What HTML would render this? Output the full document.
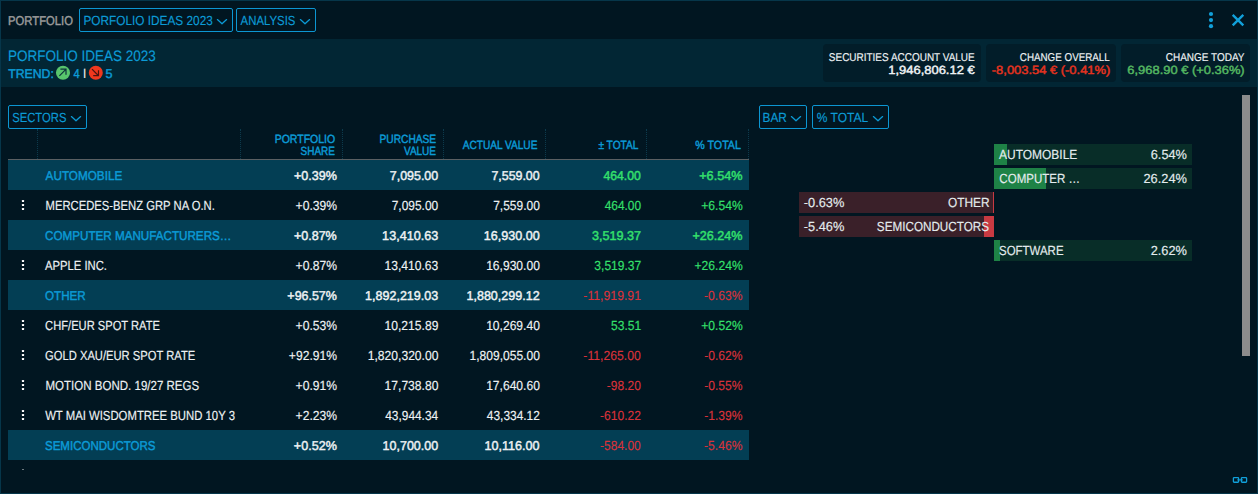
<!DOCTYPE html>
<html lang="en"><head><meta charset="utf-8"><title>Portfolio</title>
<style>
html,body{margin:0;padding:0}
body{width:1258px;height:494px;overflow:hidden;background:#011621;font-family:"Liberation Sans", sans-serif;position:relative}
#win{position:absolute;left:0;top:0;width:1256px;height:492px;border:1px solid #06364a;background:#011621;overflow:hidden}
#win>*{position:absolute}
.a{position:absolute;display:block}
.t{position:absolute;display:block;white-space:pre;line-height:20px;height:20px;transform-origin:0 50%;text-rendering:geometricPrecision}
.dd{position:absolute;border:1px solid #0c96d2;border-radius:2px}
.band{width:1256px;height:48px;background:#022634}
.stat{height:38px;border-radius:4px;background:#021d29}
.row{width:741px;height:30px}
.hl{background:#033e54}
.vsep{height:30px;width:0;border-left:1px dotted #0c3a4c}
.bar{height:21px}
</style></head><body><div id="win">
<div id="o" style="left:-1px;top:-1px;width:1258px;height:494px">
<div class="a band" style="left:1px;top:39px"></div>
<div class="a stat" style="left:823px;top:44px;width:158px"></div>
<div class="a stat" style="left:986px;top:44px;width:130px"></div>
<div class="a stat" style="left:1121px;top:44px;width:129px"></div>
<div class="dd" style="left:79px;top:8px;width:152px;height:22px"></div>
<svg class="a" style="left:216px;top:18px" width="12" height="8" viewBox="0 0 12 8"><path d="M1.4 1.6 L6 5.7 L10.6 1.6" fill="none" stroke="#0c9bd6" stroke-width="1.3" stroke-linecap="round" stroke-linejoin="round"/></svg>
<div class="dd" style="left:236px;top:8px;width:78px;height:22px"></div>
<svg class="a" style="left:299px;top:18px" width="12" height="8" viewBox="0 0 12 8"><path d="M1.4 1.6 L6 5.7 L10.6 1.6" fill="none" stroke="#0c9bd6" stroke-width="1.3" stroke-linecap="round" stroke-linejoin="round"/></svg>
<div class="dd" style="left:8px;top:105px;width:77px;height:22px"></div>
<svg class="a" style="left:70px;top:115px" width="12" height="8" viewBox="0 0 12 8"><path d="M1.4 1.6 L6 5.7 L10.6 1.6" fill="none" stroke="#0c9bd6" stroke-width="1.3" stroke-linecap="round" stroke-linejoin="round"/></svg>
<div class="dd" style="left:759px;top:105px;width:46px;height:22px"></div>
<svg class="a" style="left:790px;top:115px" width="12" height="8" viewBox="0 0 12 8"><path d="M1.4 1.6 L6 5.7 L10.6 1.6" fill="none" stroke="#0c9bd6" stroke-width="1.3" stroke-linecap="round" stroke-linejoin="round"/></svg>
<div class="dd" style="left:812px;top:105px;width:75px;height:22px"></div>
<svg class="a" style="left:872px;top:115px" width="12" height="8" viewBox="0 0 12 8"><path d="M1.4 1.6 L6 5.7 L10.6 1.6" fill="none" stroke="#0c9bd6" stroke-width="1.3" stroke-linecap="round" stroke-linejoin="round"/></svg>
<svg class="a" style="left:1208px;top:11px" width="6" height="18" viewBox="0 0 6 18"><circle cx="3" cy="3" r="2.1" fill="#11a0da"/><circle cx="3" cy="9.1" r="2.1" fill="#11a0da"/><circle cx="3" cy="15.2" r="2.1" fill="#11a0da"/></svg>
<svg class="a" style="left:1231px;top:13px" width="14" height="14" viewBox="0 0 14 14"><path d="M1.7 1.8 L12.3 12.3 M12.3 1.8 L1.7 12.3" stroke="#11a0da" stroke-width="2.4"/></svg>
<svg class="a" style="left:55px;top:65px" width="16" height="16" viewBox="0 0 16 16"><circle cx="8" cy="7.8" r="7.05" fill="#58c46c"/><path d="M4.4 10.8 L10.8 4.4 M5.4 4.2 H11 V9.8" fill="none" stroke="#0d333b" stroke-width="1.2"/></svg>
<svg class="a" style="left:88px;top:65px" width="16" height="16" viewBox="0 0 16 16"><circle cx="7.8" cy="7.8" r="7.0" fill="#f0381e"/><path d="M4 4.2 L10.3 10.5 M5.2 10.7 H10.5 V5.2" fill="none" stroke="#4a1410" stroke-width="1.2"/></svg>
<div class="a vsep" style="left:37px;top:129px"></div>
<div class="a vsep" style="left:240px;top:129px"></div>
<div class="a vsep" style="left:342px;top:129px"></div>
<div class="a vsep" style="left:443px;top:129px"></div>
<div class="a vsep" style="left:545px;top:129px"></div>
<div class="a vsep" style="left:646px;top:129px"></div>
<div class="a vsep" style="left:748px;top:129px"></div>
<div class="a" style="left:8px;top:159px;width:741px;height:1px;background:#5a5f62"></div>
<div class="a" style="left:0;top:160px;width:760px;height:310px;overflow:hidden">
<div class="a row hl" style="left:8px;top:0px"></div>
<div class="a row" style="left:8px;top:30px"></div>
<svg class="a" style="left:21px;top:39px;opacity:1" width="4" height="12" viewBox="0 0 4 12"><rect x="0.9" y="0.9" width="2.2" height="2.2" rx="0.6" fill="#fff"/><rect x="0.9" y="4.9" width="2.2" height="2.2" rx="0.6" fill="#fff"/><rect x="0.9" y="8.9" width="2.2" height="2.2" rx="0.6" fill="#fff"/></svg>
<div class="a row hl" style="left:8px;top:60px"></div>
<div class="a row" style="left:8px;top:90px"></div>
<svg class="a" style="left:21px;top:99px;opacity:1" width="4" height="12" viewBox="0 0 4 12"><rect x="0.9" y="0.9" width="2.2" height="2.2" rx="0.6" fill="#fff"/><rect x="0.9" y="4.9" width="2.2" height="2.2" rx="0.6" fill="#fff"/><rect x="0.9" y="8.9" width="2.2" height="2.2" rx="0.6" fill="#fff"/></svg>
<div class="a row hl" style="left:8px;top:120px"></div>
<div class="a row" style="left:8px;top:150px"></div>
<svg class="a" style="left:21px;top:159px;opacity:1" width="4" height="12" viewBox="0 0 4 12"><rect x="0.9" y="0.9" width="2.2" height="2.2" rx="0.6" fill="#fff"/><rect x="0.9" y="4.9" width="2.2" height="2.2" rx="0.6" fill="#fff"/><rect x="0.9" y="8.9" width="2.2" height="2.2" rx="0.6" fill="#fff"/></svg>
<div class="a row" style="left:8px;top:180px"></div>
<svg class="a" style="left:21px;top:189px;opacity:1" width="4" height="12" viewBox="0 0 4 12"><rect x="0.9" y="0.9" width="2.2" height="2.2" rx="0.6" fill="#fff"/><rect x="0.9" y="4.9" width="2.2" height="2.2" rx="0.6" fill="#fff"/><rect x="0.9" y="8.9" width="2.2" height="2.2" rx="0.6" fill="#fff"/></svg>
<div class="a row" style="left:8px;top:210px"></div>
<svg class="a" style="left:21px;top:219px;opacity:1" width="4" height="12" viewBox="0 0 4 12"><rect x="0.9" y="0.9" width="2.2" height="2.2" rx="0.6" fill="#fff"/><rect x="0.9" y="4.9" width="2.2" height="2.2" rx="0.6" fill="#fff"/><rect x="0.9" y="8.9" width="2.2" height="2.2" rx="0.6" fill="#fff"/></svg>
<div class="a row" style="left:8px;top:240px"></div>
<svg class="a" style="left:21px;top:249px;opacity:1" width="4" height="12" viewBox="0 0 4 12"><rect x="0.9" y="0.9" width="2.2" height="2.2" rx="0.6" fill="#fff"/><rect x="0.9" y="4.9" width="2.2" height="2.2" rx="0.6" fill="#fff"/><rect x="0.9" y="8.9" width="2.2" height="2.2" rx="0.6" fill="#fff"/></svg>
<div class="a row hl" style="left:8px;top:270px"></div>
<div class="a" style="left:22px;top:309px;width:2px;height:1px;background:#6e7a80"></div>
</div>
<div class="a bar" style="left:994px;top:144px;width:198px;background:#082d28"><div class="a bar" style="left:0;top:0;width:13px;background:#1e8246"></div></div>
<div class="a bar" style="left:994px;top:168px;width:198px;background:#082d28"><div class="a bar" style="left:0;top:0;width:52px;background:#1e8246"></div></div>
<div class="a bar" style="left:994px;top:240px;width:198px;background:#082d28"><div class="a bar" style="left:0;top:0;width:5.5px;background:#1e8246"></div></div>
<div class="a bar" style="left:799px;top:192px;width:195px;background:#3a2029"><div class="a bar" style="right:0;top:0;width:1.2px;background:#c83a42"></div></div>
<div class="a bar" style="left:799px;top:216px;width:195px;background:#3a2029"><div class="a bar" style="right:0;top:0;width:10px;background:#c83a42"></div></div>
<div class="a" style="left:1242px;top:95px;width:8px;height:261px;background:#8c8c8c"></div>
<svg class="a" style="left:1232px;top:476px" width="16" height="8" viewBox="0 0 16 8"><rect x="1.4" y="1.55" width="5.2" height="4.7" rx="0.8" fill="none" stroke="#11a0da" stroke-width="1.3"/><rect x="9.4" y="1.55" width="5.2" height="4.7" rx="0.8" fill="none" stroke="#11a0da" stroke-width="1.3"/><path d="M5.2 3.9 H10.8" stroke="#11a0da" stroke-width="1.1"/></svg>
<span class="t" style="left:8px;top:11px;font-size:12.83px;-webkit-text-stroke:0.45px #9c9c9c;color:#9c9c9c;transform:translateX(0.11px) scaleX(0.8774)">PORTFOLIO</span>
<span class="t" style="left:83px;top:11px;font-size:13.23px;-webkit-text-stroke:0.16px #0c9bd6;color:#0c9bd6;transform:translateX(0.46px) scaleX(0.8936)">PORFOLIO IDEAS 2023</span>
<span class="t" style="left:240px;top:11px;font-size:13.23px;-webkit-text-stroke:0.16px #0c9bd6;color:#0c9bd6;transform:translateX(0.59px) scaleX(0.8605)">ANALYSIS</span>
<span class="t" style="left:7px;top:47px;font-size:15.15px;-webkit-text-stroke:0.16px #0c9bd6;color:#0c9bd6;transform:translateX(0.92px) scaleX(0.8925)">PORFOLIO IDEAS 2023</span>
<span class="t" style="left:8px;top:64px;font-size:12.83px;-webkit-text-stroke:0.45px #0c9bd6;color:#0c9bd6;transform:translateX(0.20px) scaleX(0.9570)">TREND:</span>
<span class="t" style="left:73px;top:64px;font-size:12.83px;-webkit-text-stroke:0.45px #0c9bd6;color:#0c9bd6;transform:translateX(0.49px) scaleX(0.8667)">4</span>
<span class="t" style="left:82px;top:64px;font-size:13.23px;-webkit-text-stroke:0.16px #f3efe6;color:#f3efe6;transform:translateX(0.97px) scaleX(0.8651)">I</span>
<span class="t" style="left:105px;top:64px;font-size:12.83px;-webkit-text-stroke:0.45px #0c9bd6;color:#0c9bd6;transform:translateX(0.43px) scaleX(0.9798)">5</span>
<span class="t" style="left:828px;top:48px;font-size:11.3px;-webkit-text-stroke:0.16px #eef2f4;color:#eef2f4;transform:translateX(0.84px) scaleX(0.8824)">SECURITIES ACCOUNT VALUE</span>
<span class="t" style="left:888px;top:60px;font-size:11.87px;-webkit-text-stroke:0.45px #eef2f4;color:#eef2f4;transform:translateX(0.19px) scaleX(1.0930)">1,946,806.12 €</span>
<span class="t" style="left:1019px;top:48px;font-size:11.3px;-webkit-text-stroke:0.16px #eef2f4;color:#eef2f4;transform:translateX(0.81px) scaleX(0.8682)">CHANGE OVERALL</span>
<span class="t" style="left:991px;top:60px;font-size:11.87px;-webkit-text-stroke:0.45px #e6331f;color:#e6331f;transform:translateX(0.82px) scaleX(1.0893)">-8,003.54 € (-0.41%)</span>
<span class="t" style="left:1165px;top:48px;font-size:11.3px;-webkit-text-stroke:0.16px #eef2f4;color:#eef2f4;transform:translateX(0.77px) scaleX(0.8835)">CHANGE TODAY</span>
<span class="t" style="left:1127px;top:60px;font-size:11.87px;-webkit-text-stroke:0.45px #55b862;color:#55b862;transform:translateX(0.36px) scaleX(1.0882)">6,968.90 € (+0.36%)</span>
<span class="t" style="left:12px;top:108px;font-size:13.23px;-webkit-text-stroke:0.16px #0c9bd6;color:#0c9bd6;transform:translateX(0.15px) scaleX(0.8523)">SECTORS</span>
<span class="t" style="left:762px;top:108px;font-size:13.23px;-webkit-text-stroke:0.16px #0c9bd6;color:#0c9bd6;transform:translateX(0.56px) scaleX(0.8959)">BAR</span>
<span class="t" style="left:816px;top:108px;font-size:13.23px;-webkit-text-stroke:0.16px #0c9bd6;color:#0c9bd6;transform:translateX(0.70px) scaleX(0.9099)">% TOTAL</span>
<span class="t" style="left:274px;top:129px;font-size:11.87px;-webkit-text-stroke:0.45px #0c9bd6;color:#0c9bd6;transform:translateX(0.63px) scaleX(0.8860)">PORTFOLIO</span>
<span class="t" style="left:300px;top:141px;font-size:11.87px;-webkit-text-stroke:0.45px #0c9bd6;color:#0c9bd6;transform:translateX(0.62px) scaleX(0.8379)">SHARE</span>
<span class="t" style="left:379px;top:129px;font-size:11.87px;-webkit-text-stroke:0.45px #0c9bd6;color:#0c9bd6;transform:translateX(0.51px) scaleX(0.8596)">PURCHASE</span>
<span class="t" style="left:403px;top:141px;font-size:11.87px;-webkit-text-stroke:0.45px #0c9bd6;color:#0c9bd6;transform:translateX(0.97px) scaleX(0.8425)">VALUE</span>
<span class="t" style="left:462px;top:135px;font-size:11.87px;-webkit-text-stroke:0.45px #0c9bd6;color:#0c9bd6;transform:translateX(0.74px) scaleX(0.8514)">ACTUAL VALUE</span>
<span class="t" style="left:598px;top:135px;font-size:11.87px;-webkit-text-stroke:0.45px #0c9bd6;color:#0c9bd6;transform:translateX(0.39px) scaleX(0.8573)">± TOTAL</span>
<span class="t" style="left:695px;top:135px;font-size:11.87px;-webkit-text-stroke:0.45px #0c9bd6;color:#0c9bd6;transform:translateX(0.31px) scaleX(0.8980)">% TOTAL</span>
<span class="t" style="left:45px;top:166px;font-size:12.83px;-webkit-text-stroke:0.45px #0c9bd6;color:#0c9bd6;transform:translateX(0.60px) scaleX(0.9141)">AUTOMOBILE</span>
<span class="t" style="left:293px;top:166px;font-size:12.83px;-webkit-text-stroke:0.45px #eef2f4;color:#eef2f4;transform:translateX(0.91px) scaleX(0.9772)">+0.39%</span>
<span class="t" style="left:389px;top:166px;font-size:12.83px;-webkit-text-stroke:0.45px #eef2f4;color:#eef2f4;transform:translateX(0.77px) scaleX(0.9699)">7,095.00</span>
<span class="t" style="left:491px;top:166px;font-size:12.83px;-webkit-text-stroke:0.45px #eef2f4;color:#eef2f4;transform:translateX(0.42px) scaleX(0.9659)">7,559.00</span>
<span class="t" style="left:603px;top:166px;font-size:12.83px;-webkit-text-stroke:0.45px #35e06c;color:#35e06c;transform:translateX(0.44px) scaleX(0.9534)">464.00</span>
<span class="t" style="left:699px;top:166px;font-size:12.83px;-webkit-text-stroke:0.45px #35e06c;color:#35e06c;transform:translateX(0.24px) scaleX(0.9857)">+6.54%</span>
<span class="t" style="left:45px;top:196px;font-size:13.23px;-webkit-text-stroke:0.16px #eef2f4;color:#eef2f4;transform:translateX(0.59px) scaleX(0.8510)">MERCEDES-BENZ GRP NA O.N.</span>
<span class="t" style="left:295px;top:196px;font-size:13.23px;-webkit-text-stroke:0.16px #eef2f4;color:#eef2f4;transform:translateX(0.56px) scaleX(0.9170)">+0.39%</span>
<span class="t" style="left:391px;top:196px;font-size:13.23px;-webkit-text-stroke:0.16px #eef2f4;color:#eef2f4;transform:translateX(0.70px) scaleX(0.9038)">7,095.00</span>
<span class="t" style="left:493px;top:196px;font-size:13.23px;-webkit-text-stroke:0.16px #eef2f4;color:#eef2f4;transform:translateX(0.21px) scaleX(0.9059)">7,559.00</span>
<span class="t" style="left:604px;top:196px;font-size:13.23px;-webkit-text-stroke:0.16px #35e06c;color:#35e06c;transform:translateX(0.71px) scaleX(0.8992)">464.00</span>
<span class="t" style="left:701px;top:196px;font-size:13.23px;-webkit-text-stroke:0.16px #35e06c;color:#35e06c;transform:translateX(0.22px) scaleX(0.9170)">+6.54%</span>
<span class="t" style="left:45px;top:226px;font-size:12.83px;-webkit-text-stroke:0.45px #0c9bd6;color:#0c9bd6;transform:translateX(0.04px) scaleX(0.9083)">COMPUTER MANUFACTURERS…</span>
<span class="t" style="left:293px;top:226px;font-size:12.83px;-webkit-text-stroke:0.45px #eef2f4;color:#eef2f4;transform:translateX(0.92px) scaleX(0.9764)">+0.87%</span>
<span class="t" style="left:382px;top:226px;font-size:12.83px;-webkit-text-stroke:0.45px #eef2f4;color:#eef2f4;transform:translateX(0.12px) scaleX(0.9837)">13,410.63</span>
<span class="t" style="left:483px;top:226px;font-size:12.83px;-webkit-text-stroke:0.45px #eef2f4;color:#eef2f4;transform:translateX(0.86px) scaleX(0.9781)">16,930.00</span>
<span class="t" style="left:591px;top:226px;font-size:12.83px;-webkit-text-stroke:0.45px #35e06c;color:#35e06c;transform:translateX(0.93px) scaleX(0.9819)">3,519.37</span>
<span class="t" style="left:692px;top:226px;font-size:12.83px;-webkit-text-stroke:0.45px #35e06c;color:#35e06c;transform:translateX(0.48px) scaleX(0.9816)">+26.24%</span>
<span class="t" style="left:45px;top:256px;font-size:13.23px;-webkit-text-stroke:0.16px #eef2f4;color:#eef2f4;transform:translateX(0.01px) scaleX(0.8515)">APPLE INC.</span>
<span class="t" style="left:295px;top:256px;font-size:13.23px;-webkit-text-stroke:0.16px #eef2f4;color:#eef2f4;transform:translateX(0.56px) scaleX(0.9170)">+0.87%</span>
<span class="t" style="left:384px;top:256px;font-size:13.23px;-webkit-text-stroke:0.16px #eef2f4;color:#eef2f4;transform:translateX(0.54px) scaleX(0.9145)">13,410.63</span>
<span class="t" style="left:486px;top:256px;font-size:13.23px;-webkit-text-stroke:0.16px #eef2f4;color:#eef2f4;transform:translateX(0.15px) scaleX(0.9133)">16,930.00</span>
<span class="t" style="left:594px;top:256px;font-size:13.23px;-webkit-text-stroke:0.16px #35e06c;color:#35e06c;transform:translateX(0.35px) scaleX(0.9118)">3,519.37</span>
<span class="t" style="left:694px;top:256px;font-size:13.23px;-webkit-text-stroke:0.16px #35e06c;color:#35e06c;transform:translateX(0.47px) scaleX(0.9170)">+26.24%</span>
<span class="t" style="left:45px;top:286px;font-size:12.83px;-webkit-text-stroke:0.45px #0c9bd6;color:#0c9bd6;transform:translateX(0.07px) scaleX(0.9051)">OTHER</span>
<span class="t" style="left:287px;top:286px;font-size:12.83px;-webkit-text-stroke:0.45px #eef2f4;color:#eef2f4;transform:translateX(0.37px) scaleX(0.9704)">+96.57%</span>
<span class="t" style="left:365px;top:286px;font-size:12.83px;-webkit-text-stroke:0.45px #eef2f4;color:#eef2f4;transform:translateX(0.11px) scaleX(0.9754)">1,892,219.03</span>
<span class="t" style="left:466px;top:286px;font-size:12.83px;-webkit-text-stroke:0.45px #eef2f4;color:#eef2f4;transform:translateX(0.47px) scaleX(0.9770)">1,880,299.12</span>
<span class="t" style="left:583px;top:286px;font-size:13.23px;-webkit-text-stroke:0.16px #d8323a;color:#d8323a;transform:translateX(0.33px) scaleX(0.9261)">-11,919.91</span>
<span class="t" style="left:704px;top:286px;font-size:13.23px;-webkit-text-stroke:0.16px #d8323a;color:#d8323a;transform:translateX(0.08px) scaleX(0.9170)">-0.63%</span>
<span class="t" style="left:45px;top:316px;font-size:13.23px;-webkit-text-stroke:0.16px #eef2f4;color:#eef2f4;transform:translateX(0.12px) scaleX(0.8439)">CHF/EUR SPOT RATE</span>
<span class="t" style="left:295px;top:316px;font-size:13.23px;-webkit-text-stroke:0.16px #eef2f4;color:#eef2f4;transform:translateX(0.56px) scaleX(0.9170)">+0.53%</span>
<span class="t" style="left:384px;top:316px;font-size:13.23px;-webkit-text-stroke:0.16px #eef2f4;color:#eef2f4;transform:translateX(0.53px) scaleX(0.9164)">10,215.89</span>
<span class="t" style="left:486px;top:316px;font-size:13.23px;-webkit-text-stroke:0.16px #eef2f4;color:#eef2f4;transform:translateX(0.15px) scaleX(0.9133)">10,269.40</span>
<span class="t" style="left:610px;top:316px;font-size:13.23px;-webkit-text-stroke:0.16px #35e06c;color:#35e06c;transform:translateX(0.99px) scaleX(0.9123)">53.51</span>
<span class="t" style="left:701px;top:316px;font-size:13.23px;-webkit-text-stroke:0.16px #35e06c;color:#35e06c;transform:translateX(0.22px) scaleX(0.9170)">+0.52%</span>
<span class="t" style="left:45px;top:346px;font-size:13.23px;-webkit-text-stroke:0.16px #eef2f4;color:#eef2f4;transform:translateX(0.12px) scaleX(0.8465)">GOLD XAU/EUR SPOT RATE</span>
<span class="t" style="left:288px;top:346px;font-size:13.23px;-webkit-text-stroke:0.16px #eef2f4;color:#eef2f4;transform:translateX(0.82px) scaleX(0.9170)">+92.91%</span>
<span class="t" style="left:367px;top:346px;font-size:13.23px;-webkit-text-stroke:0.16px #eef2f4;color:#eef2f4;transform:translateX(0.78px) scaleX(0.9152)">1,820,320.00</span>
<span class="t" style="left:469px;top:346px;font-size:13.23px;-webkit-text-stroke:0.16px #eef2f4;color:#eef2f4;transform:translateX(0.50px) scaleX(0.9117)">1,809,055.00</span>
<span class="t" style="left:583px;top:346px;font-size:13.23px;-webkit-text-stroke:0.16px #d8323a;color:#d8323a;transform:translateX(0.31px) scaleX(0.9249)">-11,265.00</span>
<span class="t" style="left:704px;top:346px;font-size:13.23px;-webkit-text-stroke:0.16px #d8323a;color:#d8323a;transform:translateX(0.17px) scaleX(0.9170)">-0.62%</span>
<span class="t" style="left:45px;top:376px;font-size:13.23px;-webkit-text-stroke:0.16px #eef2f4;color:#eef2f4;transform:translateX(0.49px) scaleX(0.8718)">MOTION BOND. 19/27 REGS</span>
<span class="t" style="left:295px;top:376px;font-size:13.23px;-webkit-text-stroke:0.16px #eef2f4;color:#eef2f4;transform:translateX(0.56px) scaleX(0.9170)">+0.91%</span>
<span class="t" style="left:384px;top:376px;font-size:13.23px;-webkit-text-stroke:0.16px #eef2f4;color:#eef2f4;transform:translateX(0.54px) scaleX(0.9164)">17,738.80</span>
<span class="t" style="left:486px;top:376px;font-size:13.23px;-webkit-text-stroke:0.16px #eef2f4;color:#eef2f4;transform:translateX(0.15px) scaleX(0.9133)">17,640.60</span>
<span class="t" style="left:606px;top:376px;font-size:13.23px;-webkit-text-stroke:0.16px #d8323a;color:#d8323a;transform:translateX(0.84px) scaleX(0.9085)">-98.20</span>
<span class="t" style="left:704px;top:376px;font-size:13.23px;-webkit-text-stroke:0.16px #d8323a;color:#d8323a;transform:translateX(0.17px) scaleX(0.9170)">-0.55%</span>
<span class="t" style="left:45px;top:406px;font-size:13.23px;-webkit-text-stroke:0.16px #eef2f4;color:#eef2f4;transform:translateX(0.14px) scaleX(0.8577)">WT MAI WISDOMTREE BUND 10Y 3</span>
<span class="t" style="left:295px;top:406px;font-size:13.23px;-webkit-text-stroke:0.16px #eef2f4;color:#eef2f4;transform:translateX(0.56px) scaleX(0.9170)">+2.23%</span>
<span class="t" style="left:385px;top:406px;font-size:13.23px;-webkit-text-stroke:0.16px #eef2f4;color:#eef2f4;transform:translateX(0.25px) scaleX(0.8995)">43,944.34</span>
<span class="t" style="left:486px;top:406px;font-size:13.23px;-webkit-text-stroke:0.16px #eef2f4;color:#eef2f4;transform:translateX(0.79px) scaleX(0.9026)">43,334.12</span>
<span class="t" style="left:600px;top:406px;font-size:13.23px;-webkit-text-stroke:0.16px #d8323a;color:#d8323a;transform:translateX(0.07px) scaleX(0.9119)">-610.22</span>
<span class="t" style="left:704px;top:406px;font-size:13.23px;-webkit-text-stroke:0.16px #d8323a;color:#d8323a;transform:translateX(0.17px) scaleX(0.9170)">-1.39%</span>
<span class="t" style="left:44px;top:436px;font-size:12.83px;-webkit-text-stroke:0.45px #0c9bd6;color:#0c9bd6;transform:translateX(0.97px) scaleX(0.8985)">SEMICONDUCTORS</span>
<span class="t" style="left:293px;top:436px;font-size:12.83px;-webkit-text-stroke:0.45px #eef2f4;color:#eef2f4;transform:translateX(0.86px) scaleX(0.9788)">+0.52%</span>
<span class="t" style="left:382px;top:436px;font-size:12.83px;-webkit-text-stroke:0.45px #eef2f4;color:#eef2f4;transform:translateX(0.57px) scaleX(0.9740)">10,700.00</span>
<span class="t" style="left:484px;top:436px;font-size:12.83px;-webkit-text-stroke:0.45px #eef2f4;color:#eef2f4;transform:translateX(0.57px) scaleX(0.9799)">10,116.00</span>
<span class="t" style="left:600px;top:436px;font-size:13.23px;-webkit-text-stroke:0.16px #d8323a;color:#d8323a;transform:translateX(0.09px) scaleX(0.9074)">-584.00</span>
<span class="t" style="left:704px;top:436px;font-size:13.23px;-webkit-text-stroke:0.16px #d8323a;color:#d8323a;transform:translateX(0.08px) scaleX(0.9170)">-5.46%</span>
<span class="t" style="left:998px;top:145px;font-size:13.23px;-webkit-text-stroke:0.16px #e4ecee;color:#e4ecee;transform:translateX(1.00px) scaleX(0.9062)">AUTOMOBILE</span>
<span class="t" style="left:1150px;top:145px;font-size:13.23px;-webkit-text-stroke:0.16px #e4ecee;color:#e4ecee;transform:translateX(0.77px) scaleX(0.9651)">6.54%</span>
<span class="t" style="left:999px;top:169px;font-size:13.23px;-webkit-text-stroke:0.16px #e4ecee;color:#e4ecee;transform:translateX(0.35px) scaleX(0.8729)">COMPUTER …</span>
<span class="t" style="left:1143px;top:169px;font-size:13.23px;-webkit-text-stroke:0.16px #e4ecee;color:#e4ecee;transform:translateX(0.49px) scaleX(0.9693)">26.24%</span>
<span class="t" style="left:803px;top:193px;font-size:13.23px;-webkit-text-stroke:0.16px #e4ecee;color:#e4ecee;transform:translateX(0.80px) scaleX(0.9688)">-0.63%</span>
<span class="t" style="left:947px;top:193px;font-size:13.23px;-webkit-text-stroke:0.16px #e4ecee;color:#e4ecee;transform:translateX(0.96px) scaleX(0.8990)">OTHER</span>
<span class="t" style="left:803px;top:217px;font-size:13.23px;-webkit-text-stroke:0.16px #e4ecee;color:#e4ecee;transform:translateX(0.80px) scaleX(0.9688)">-5.46%</span>
<span class="t" style="left:876px;top:217px;font-size:13.23px;-webkit-text-stroke:0.16px #e4ecee;color:#e4ecee;transform:translateX(0.86px) scaleX(0.8844)">SEMICONDUCTORS</span>
<span class="t" style="left:999px;top:241px;font-size:13.23px;-webkit-text-stroke:0.16px #e4ecee;color:#e4ecee;transform:translateX(0.05px) scaleX(0.8666)">SOFTWARE</span>
<span class="t" style="left:1150px;top:241px;font-size:13.23px;-webkit-text-stroke:0.16px #e4ecee;color:#e4ecee;transform:translateX(0.67px) scaleX(0.9687)">2.62%</span>
</div></div></body></html>
